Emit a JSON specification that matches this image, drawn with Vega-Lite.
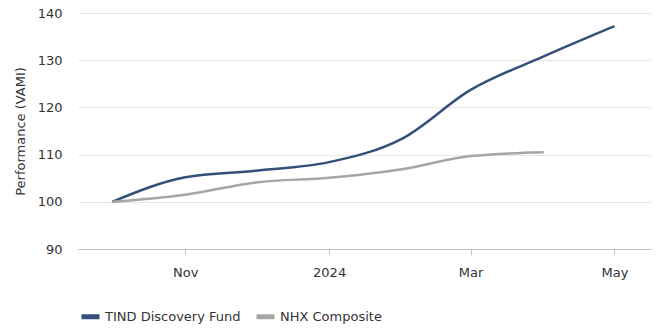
{
  "$schema": "https://vega.github.io/schema/vega-lite/v6.json",
  "width": 573,
  "height": 236,
  "autosize": {"type": "none"},
  "padding": {"left": 78, "top": 13, "right": 12, "bottom": 82},
  "config": {
    "font": "DejaVu Sans",
    "view": {"stroke": null},
    "axis": {"labelColor": "#333333", "titleColor": "#333333", "labelFontSize": 13, "titleFontSize": 13, "titleFontWeight": "normal"}
  },
  "data": {
    "values": [
      {"date": "2023-10-01T00:00:00", "series": "TIND Discovery Fund", "value": 100},
      {"date": "2023-11-01T00:00:00", "series": "TIND Discovery Fund", "value": 105.2},
      {"date": "2023-12-01T00:00:00", "series": "TIND Discovery Fund", "value": 106.6},
      {"date": "2024-01-01T00:00:00", "series": "TIND Discovery Fund", "value": 108.4},
      {"date": "2024-02-01T00:00:00", "series": "TIND Discovery Fund", "value": 113.4},
      {"date": "2024-03-01T00:00:00", "series": "TIND Discovery Fund", "value": 123.7},
      {"date": "2024-04-01T00:00:00", "series": "TIND Discovery Fund", "value": 130.8},
      {"date": "2024-05-01T00:00:00", "series": "TIND Discovery Fund", "value": 137.2},
      {"date": "2023-10-01T00:00:00", "series": "NHX Composite", "value": 100},
      {"date": "2023-11-01T00:00:00", "series": "NHX Composite", "value": 101.5},
      {"date": "2023-12-01T00:00:00", "series": "NHX Composite", "value": 104.1},
      {"date": "2024-01-01T00:00:00", "series": "NHX Composite", "value": 105.1},
      {"date": "2024-02-01T00:00:00", "series": "NHX Composite", "value": 106.9},
      {"date": "2024-03-01T00:00:00", "series": "NHX Composite", "value": 109.7},
      {"date": "2024-04-01T00:00:00", "series": "NHX Composite", "value": 110.5}
    ]
  },
  "mark": {"type": "line", "interpolate": "monotone", "strokeWidth": 2.5},
  "encoding": {
    "x": {
      "field": "date",
      "type": "temporal",
      "scale": {"domain": [{"year": 2023, "month": 9, "date": 16, "hours": 12}, {"year": 2024, "month": 5, "date": 16, "hours": 12}]},
      "axis": {
        "title": null,
        "grid": false,
        "values": [{"year": 2023, "month": 11, "date": 1}, {"year": 2024, "month": 1, "date": 1}, {"year": 2024, "month": 3, "date": 1}, {"year": 2024, "month": 5, "date": 1}],
        "labelExpr": "month(datum.value) == 0 ? timeFormat(datum.value, '%Y') : timeFormat(datum.value, '%b')",
        "domainColor": "#c0c0c0",
        "tickColor": "#c0c0c0",
        "tickSize": 6,
        "labelPadding": 11
      }
    },
    "y": {
      "field": "value",
      "type": "quantitative",
      "scale": {"domain": [90, 140]},
      "axis": {
        "title": "Performance (VAMI)",
        "values": [90, 100, 110, 120, 130, 140],
        "domain": false,
        "ticks": false,
        "tickSize": 0,
        "labelPadding": 16,
        "gridColor": "#e6e6e6",
        "titlePadding": 10
      }
    },
    "color": {
      "field": "series",
      "type": "nominal",
      "scale": {"domain": ["TIND Discovery Fund", "NHX Composite"], "range": ["#34507a", "#a6a6a6"]},
      "legend": {
        "title": null,
        "orient": "none",
        "direction": "horizontal",
        "columns": 2,
        "legendX": 1,
        "legendY": 292,
        "padding": 0,
        "symbolType": "stroke",
        "symbolSize": 324,
        "symbolStrokeWidth": 5,
        "labelFontSize": 13,
        "labelColor": "#333333",
        "labelOffset": 3,
        "columnPadding": 5
      }
    }
  }
}
